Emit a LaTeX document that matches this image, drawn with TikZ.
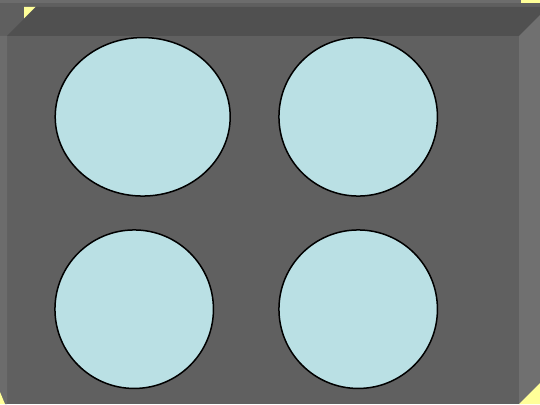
\documentclass[tikz,border=0pt]{standalone}
\usetikzlibrary{shapes.geometric}
\definecolor{bgyellow}{HTML}{FFFF99}
\definecolor{midgray}{HTML}{5F5F5F}
\definecolor{litegray}{HTML}{6C6C6C}
\definecolor{topgray}{HTML}{505050}
\definecolor{frontgray}{HTML}{606060}
\definecolor{sidegray}{HTML}{707070}
\definecolor{disklue}{HTML}{BAE0E4}
\tikzset{
  face/.style={draw=none},
  disk/.style={circle, draw=black, line width=1.5pt, fill=disklue, minimum size=158.5pt, inner sep=0pt},
  oval/.style={ellipse, draw=black, line width=1.5pt, fill=disklue, minimum width=175pt, minimum height=158.5pt, inner sep=0pt}
}
\begin{document}
\begin{tikzpicture}[x=1pt,y=-1pt]
\useasboundingbox (0,0) rectangle (540,404);
\begin{scope}
\clip (0,0) rectangle (540,404);
% back layer
\fill[midgray] (0,0) rectangle (540,404);
\fill[litegray] (0,0) rectangle (521,3);
\fill[bgyellow] (521,0) rectangle (540,3);
% cube: top face, front face, right face
\fill[topgray] (7,36) -- (36,7) -- (548,7) -- (519,36) -- cycle;
\fill[frontgray] (7,36) rectangle (519,404);
\fill[sidegray] (519,36) -- (548,7) -- (548,375) -- (519,404) -- cycle;
\fill[bgyellow] (519,404) -- (548,375) -- (548,404) -- cycle;
\fill[bgyellow] (24,7) -- (35.5,7) -- (24,18.5) -- cycle;
% left strip
\fill[litegray] (0,36) -- (7,36) -- (7,404) -- (5,404) -- (0,392) -- cycle;
\fill[bgyellow] (0,392) -- (5,404) -- (0,404) -- cycle;
\end{scope}
% disks
\node[oval] (d1) at (142.7,116.8) {};
\node[disk] (d2) at (358.2,116.8) {};
\node[disk] (d3) at (134.2,309.2) {};
\node[disk] (d4) at (358.2,309.2) {};
\end{tikzpicture}
\end{document}
